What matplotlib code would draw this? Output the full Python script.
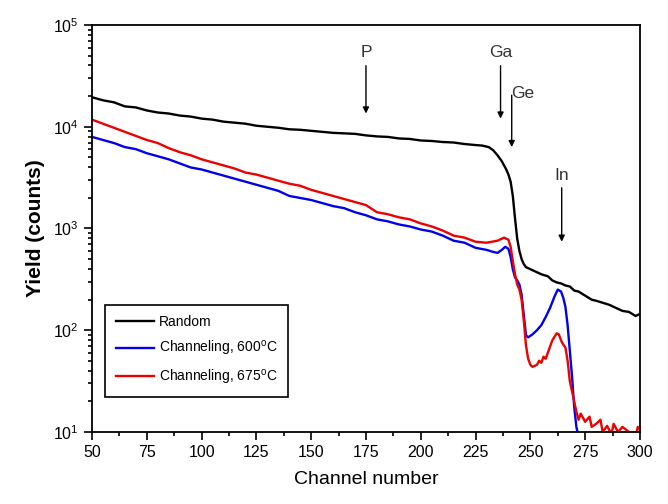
import numpy as np
import matplotlib.pyplot as plt
from matplotlib.ticker import MultipleLocator, LogLocator, NullFormatter

plt.rcParams['font.family'] = ['Liberation Sans', 'DejaVu Sans']

# Random spectrum (log10 of counts)
ch_random = [50, 55, 60, 65, 70, 75, 80, 85, 90, 95, 100, 105, 110, 115, 120,
             125, 130, 135, 140, 145, 150, 155, 160, 165, 170, 175, 180, 185,
             190, 195, 200, 205, 210, 215, 220, 225, 228, 231, 233, 235, 237,
             239, 240, 241, 242, 243, 244, 245, 246, 247, 248, 250, 252, 255,
             258, 260, 262, 264, 266, 268, 270, 272, 275, 278, 280, 283, 286,
             289, 292, 295, 298, 300]
log_random = [4.29, 4.26, 4.24, 4.20, 4.19, 4.16, 4.14, 4.13, 4.11, 4.10, 4.08,
              4.07, 4.05, 4.04, 4.03, 4.01, 4.00, 3.99, 3.975, 3.97, 3.96, 3.95,
              3.94, 3.935, 3.93, 3.915, 3.905, 3.90, 3.885, 3.88, 3.865, 3.86,
              3.85, 3.845, 3.83, 3.82, 3.815, 3.80, 3.77, 3.72, 3.66, 3.58, 3.53,
              3.46, 3.32, 3.10, 2.90, 2.78, 2.70, 2.65, 2.62, 2.60, 2.58, 2.55,
              2.53, 2.49, 2.47, 2.46, 2.44, 2.43, 2.39, 2.38, 2.34, 2.30, 2.29,
              2.27, 2.25, 2.22, 2.19, 2.18, 2.14, 2.16]

# Channeling, 600 C
ch_600 = [50, 55, 60, 65, 70, 75, 80, 85, 90, 95, 100, 105, 110, 115, 120, 125,
          130, 135, 140, 145, 150, 155, 160, 165, 170, 175, 180, 185, 190, 195,
          200, 205, 210, 215, 220, 225, 230, 233, 235, 237, 238.5, 240, 241,
          242, 243, 244, 245, 246, 247, 248, 249, 251, 253, 255, 257, 259, 261,
          262.5, 264, 265, 266, 267, 268, 269, 270, 271, 272]
log_600 = [3.90, 3.87, 3.84, 3.80, 3.78, 3.74, 3.71, 3.68, 3.64, 3.60, 3.58,
           3.55, 3.52, 3.49, 3.46, 3.43, 3.40, 3.37, 3.32, 3.30, 3.28, 3.25,
           3.22, 3.20, 3.16, 3.13, 3.09, 3.07, 3.04, 3.02, 2.99, 2.97, 2.93,
           2.88, 2.86, 2.81, 2.79, 2.77, 2.76, 2.79, 2.82, 2.80, 2.72, 2.60,
           2.52, 2.49, 2.45, 2.35, 2.15, 1.95, 1.93, 1.96, 2.00, 2.05, 2.13,
           2.22, 2.33, 2.40, 2.38, 2.32, 2.23, 2.05, 1.80, 1.55, 1.25, 1.05, 0.95]

# Channeling, 675 C
ch_675 = [50, 55, 60, 65, 70, 75, 80, 85, 90, 95, 100, 105, 110, 115, 120, 125,
          130, 135, 140, 145, 150, 155, 160, 165, 170, 175, 180, 185, 190, 195,
          200, 205, 210, 215, 220, 225, 230, 235, 238, 240, 241, 242, 243, 244,
          245, 246, 247, 248, 249, 250, 251, 253, 254, 255, 256, 257, 258, 260,
          262, 263, 264, 265, 266, 267, 268, 269, 270, 271, 272, 273, 275, 277,
          278, 280, 282, 283, 285, 287, 288, 290, 292, 298, 299, 300]
log_675 = [4.07, 4.03, 3.99, 3.95, 3.91, 3.87, 3.84, 3.79, 3.75, 3.72, 3.68,
           3.65, 3.62, 3.59, 3.55, 3.53, 3.50, 3.47, 3.44, 3.42, 3.38, 3.35,
           3.32, 3.29, 3.26, 3.23, 3.16, 3.14, 3.11, 3.09, 3.05, 3.02, 2.98,
           2.93, 2.91, 2.87, 2.86, 2.88, 2.91, 2.89, 2.82, 2.68, 2.55, 2.45,
           2.40, 2.30, 2.10, 1.85, 1.72, 1.66, 1.64, 1.66, 1.70, 1.68, 1.74,
           1.72, 1.78, 1.90, 1.97, 1.96, 1.90, 1.86, 1.83, 1.70, 1.50, 1.40,
           1.30, 1.20, 1.12, 1.18, 1.10, 1.15, 1.05, 1.08, 1.12, 1.00, 1.06,
           0.98, 1.08, 1.00, 1.05, 0.95, 1.05, 1.02]

# element edges: label, channel, arrow top / bottom (log10), text position
elements = ['P', 'Ga', 'Ge', 'In']
elem_ch = [175, 236.4, 241.5, 264.3]
arrow_top = [4.60, 4.60, 4.31, 3.40]
arrow_bot = [4.13, 4.08, 3.80, 2.87]
text_x = [175, 236.4, 246.5, 264.3]
text_y = [4.73, 4.73, 4.33, 3.52]

fig = plt.figure(figsize=(6.68, 5.04), dpi=100)
ax = fig.add_axes([0.1377, 0.1429, 0.8203, 0.8075])

ax.plot(ch_random, 10 ** np.array(log_random), color='black', lw=1.7,
        label='Random')
ax.plot(ch_600, 10 ** np.array(log_600), color='#0000ee', lw=1.7,
        label='Channeling, 600$^\\mathregular{o}$C')
ax.plot(ch_675, 10 ** np.array(log_675), color='#ee0000', lw=1.7,
        label='Channeling, 675$^\\mathregular{o}$C')

for lab, c, t, b, tx, ty in zip(elements, elem_ch, arrow_top, arrow_bot, text_x, text_y):
    ax.annotate('', xy=(c, 10 ** b), xytext=(c, 10 ** t),
                arrowprops=dict(arrowstyle='-|>', color='black', lw=1,
                                mutation_scale=9, shrinkA=0, shrinkB=0))
    ax.text(tx, 10 ** ty, lab, ha='center', va='center', fontsize=12.5,
            color='#333333')

ax.set_yscale('log')
ax.set_xlim(50, 300)
ax.set_ylim(10, 1e5)
ax.xaxis.set_major_locator(MultipleLocator(25))
ax.xaxis.set_minor_locator(MultipleLocator(12.5))
ax.yaxis.set_major_locator(LogLocator(base=10, numticks=10))
ax.yaxis.set_minor_locator(LogLocator(base=10, subs=np.arange(2, 10), numticks=10))
ax.yaxis.set_minor_formatter(NullFormatter())
ax.tick_params(which='both', direction='out', top=False, right=False,
               labelsize=11.5, width=1.2)
ax.tick_params(which='major', length=6)
ax.tick_params(which='minor', length=3)
for s in ax.spines.values():
    s.set_linewidth(1.3)

ax.set_xlabel('Channel number', fontsize=14, labelpad=8)
ax.set_ylabel('Yield (counts)', fontsize=15, fontweight='bold', labelpad=6)

leg = ax.legend(loc='lower left', bbox_to_anchor=(0.024, 0.086), fontsize=10,
                fancybox=False, edgecolor='black', framealpha=1,
                borderaxespad=0, handlelength=2.8, handletextpad=0.35,
                borderpad=0.75, labelspacing=0.7)
leg.get_frame().set_linewidth(1.2)

fig.savefig('out.png', dpi=100)
